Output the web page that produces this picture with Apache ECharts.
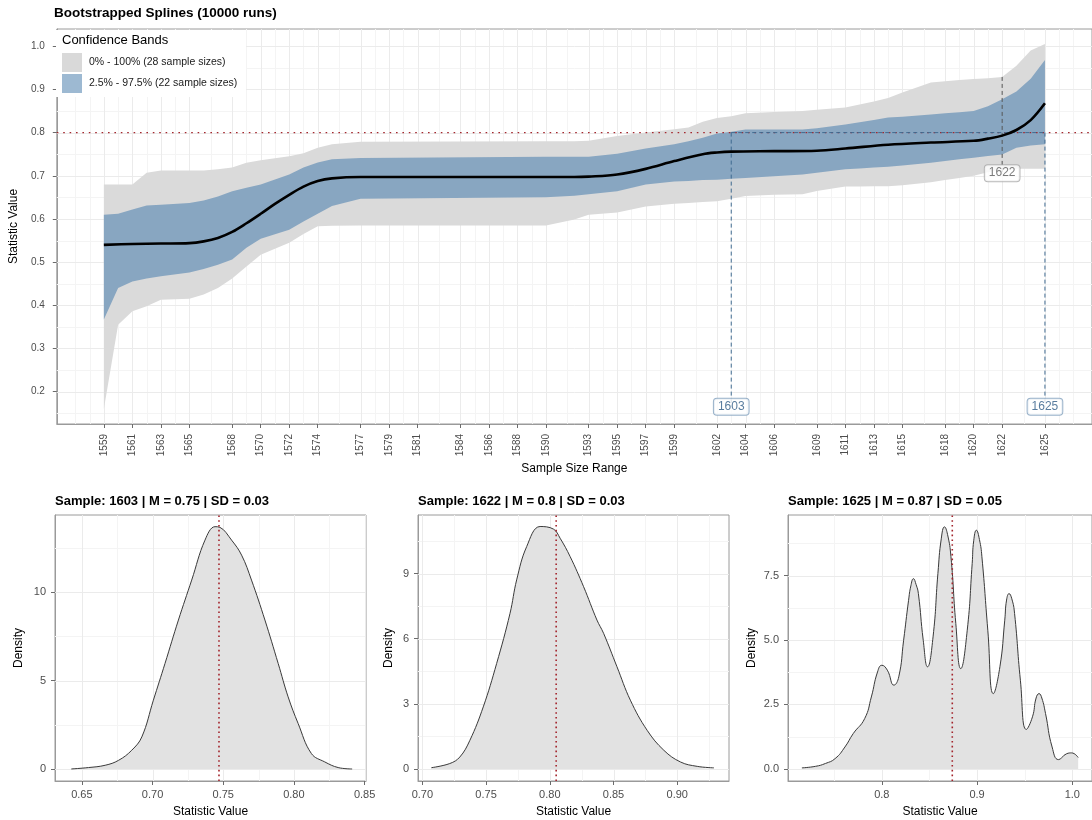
<!DOCTYPE html>
<html>
<head>
<meta charset="utf-8">
<title>Bootstrapped Splines</title>
<script src="https://cdn.jsdelivr.net/npm/echarts@6/dist/echarts.min.js"></script>
<style>
  html, body { margin: 0; padding: 0; background: #ffffff; }
  #chart { width: 1092px; height: 820px; }
</style>
</head>
<body>
<div id="chart"></div>
<script>
// ---------- spline panel data ----------
const sampleTicks = [1559, 1561, 1563, 1565, 1568, 1570, 1572, 1574, 1577, 1579, 1581, 1584, 1586, 1588, 1590,
  1593, 1595, 1597, 1599, 1602, 1604, 1606, 1609, 1611, 1613, 1615, 1618, 1620, 1622, 1625];
const valueTicks = [0.2, 0.3, 0.4, 0.5, 0.6, 0.7, 0.8, 0.9, 1.0];

// sample sizes where the band edges are given
const bandX = [1559, 1560, 1561, 1562, 1563, 1565, 1566, 1567, 1568, 1569, 1570, 1572, 1573, 1574, 1575, 1577,
  1590, 1591, 1592, 1593, 1595, 1597, 1599, 1600, 1601, 1602, 1603, 1604, 1606, 1608, 1609, 1611, 1612, 1613,
  1614, 1615, 1617, 1618, 1619, 1620, 1621, 1622, 1623, 1624, 1625];
// 0% - 100% band
const outerHi = [0.680, 0.680, 0.680, 0.707, 0.712, 0.712, 0.712, 0.715, 0.719, 0.730, 0.736, 0.745, 0.752, 0.765, 0.773, 0.779,
  0.780, 0.780, 0.780, 0.781, 0.792, 0.800, 0.808, 0.812, 0.825, 0.834, 0.838, 0.845, 0.848, 0.850, 0.853, 0.858, 0.865, 0.872,
  0.880, 0.893, 0.916, 0.919, 0.922, 0.924, 0.926, 0.929, 0.955, 0.990, 1.005];
const outerLo = [0.160, 0.355, 0.386, 0.398, 0.413, 0.415, 0.425, 0.440, 0.462, 0.490, 0.517, 0.545, 0.565, 0.583, 0.584, 0.585,
  0.585, 0.592, 0.599, 0.610, 0.615, 0.629, 0.635, 0.637, 0.639, 0.641, 0.647, 0.653, 0.656, 0.657, 0.665, 0.675, 0.675, 0.676,
  0.676, 0.678, 0.685, 0.690, 0.695, 0.700, 0.708, 0.715, 0.716, 0.716, 0.716];
// 2.5% - 97.5% band
const innerHi = [0.610, 0.612, 0.622, 0.631, 0.633, 0.637, 0.643, 0.652, 0.664, 0.672, 0.680, 0.703, 0.719, 0.731, 0.738, 0.741,
  0.744, 0.744, 0.744, 0.744, 0.751, 0.763, 0.773, 0.780, 0.788, 0.798, 0.802, 0.807, 0.807, 0.807, 0.810, 0.819, 0.824, 0.829,
  0.835, 0.837, 0.842, 0.845, 0.847, 0.850, 0.861, 0.877, 0.895, 0.925, 0.968];
const innerLo = [0.367, 0.440, 0.455, 0.462, 0.467, 0.476, 0.484, 0.494, 0.506, 0.533, 0.554, 0.575, 0.594, 0.612, 0.630, 0.647,
  0.650, 0.652, 0.654, 0.657, 0.664, 0.680, 0.687, 0.688, 0.690, 0.691, 0.693, 0.695, 0.699, 0.703, 0.707, 0.715, 0.717, 0.719,
  0.721, 0.724, 0.730, 0.734, 0.738, 0.742, 0.746, 0.749, 0.765, 0.770, 0.773];

// bootstrapped mean spline
const meanX = [1559, 1561, 1563, 1565, 1566, 1567, 1568, 1569, 1570, 1571, 1572, 1573, 1574, 1575, 1577, 1584, 1592, 1593,
  1595, 1597, 1599, 1601, 1602, 1603, 1606, 1609, 1611, 1614, 1617, 1620, 1621, 1622, 1623, 1624, 1625];
const meanY = [0.540, 0.542, 0.543, 0.544, 0.548, 0.556, 0.570, 0.590, 0.612, 0.635, 0.656, 0.675, 0.688, 0.694, 0.697, 0.697, 0.697, 0.698,
  0.703, 0.716, 0.734, 0.750, 0.754, 0.756, 0.757, 0.758, 0.763, 0.772, 0.777, 0.781, 0.786, 0.793, 0.806, 0.829, 0.868];

const threshold = 0.8;
const bandNames = ['0% - 100% (28 sample sizes)', '2.5% - 97.5% (22 sample sizes)'];

// highlighted sample sizes: label position and top of the guide line
const calloutSizes = [1603, 1622, 1625];
const calloutLabelY = [0.165, 0.706, 0.165];
const calloutLineTop = [0.8, 0.929, 0.8];

// ---------- density panels ----------
const panelSamples = [1603, 1622, 1625];
const panelMeans = ['0.75', '0.8', '0.87'];
const panelSDs = ['0.03', '0.03', '0.05'];
const panelMeanLine = [0.747, 0.805, 0.874];

const dens1603X = [0.6425, 0.6547, 0.6665, 0.676, 0.6853, 0.6924, 0.7006, 0.7088, 0.7183, 0.7277, 0.7371, 0.7442, 0.7477,
  0.7559, 0.7630, 0.7700, 0.7795, 0.7889, 0.7959, 0.8030, 0.8124, 0.8218, 0.8313, 0.8412];
const dens1603Y = [0.00, 0.08, 0.21, 0.49, 1.06, 1.81, 3.89, 5.96, 8.42, 10.68, 12.94, 13.70, 13.66,
  12.94, 12.09, 10.68, 8.42, 5.96, 4.08, 2.57, 0.87, 0.40, 0.08, 0.00];

const dens1622X = [0.7071, 0.7215, 0.7294, 0.7373, 0.7478, 0.7583, 0.7688, 0.7740, 0.7819, 0.7924, 0.8029, 0.8081, 0.8160,
  0.8265, 0.8370, 0.8422, 0.8527, 0.8632, 0.8764, 0.8895, 0.9026, 0.9157, 0.9288];
const dens1622Y = [0.06, 0.25, 0.55, 1.32, 2.86, 4.86, 7.17, 8.71, 10.25, 11.17, 11.05, 10.63, 9.78,
  8.40, 6.86, 6.25, 4.71, 3.17, 1.78, 0.86, 0.32, 0.12, 0.05];

const dens1625X = [0.7161, 0.7305, 0.7408, 0.7510, 0.7613, 0.7700, 0.7820, 0.7890, 0.7955, 0.8000, 0.8058, 0.8127, 0.8178,
  0.8229, 0.8281, 0.8305, 0.8332, 0.8360, 0.8384, 0.8435, 0.8480, 0.8538, 0.8589, 0.8625, 0.8658, 0.8690, 0.8726, 0.8777,
  0.8829, 0.8897, 0.8949, 0.8965, 0.8993, 0.9025, 0.9051, 0.9113, 0.9171, 0.9240, 0.9291, 0.9310, 0.9336, 0.9365, 0.9394,
  0.9455, 0.9517, 0.9582, 0.9620, 0.9651, 0.9680, 0.9719, 0.9788, 0.9856, 0.9942, 0.9993, 1.0062];
const dens1625Y = [0.04, 0.10, 0.21, 0.40, 0.85, 1.37, 1.95, 2.79, 3.76, 4.02, 3.83, 3.25, 3.57,
  4.99, 6.54, 7.10, 7.38, 7.15, 6.80, 4.99, 3.96, 5.12, 7.58, 8.95, 9.39, 9.10, 8.23, 5.64,
  3.89, 5.38, 7.97, 8.85, 9.26, 8.90, 8.23, 5.38, 2.92, 3.96, 5.77, 6.55, 6.80, 6.60, 6.03,
  3.44, 1.53, 2.02, 2.75, 2.92, 2.75, 2.15, 0.85, 0.36, 0.59, 0.62, 0.44];

const densX = [dens1603X, dens1622X, dens1625X];
const densY = [dens1603Y, dens1622Y, dens1625Y];
const densXTicks = [[0.65, 0.70, 0.75, 0.80, 0.85], [0.70, 0.75, 0.80, 0.85, 0.90], [0.8, 0.9, 1.0]];
const densXDecimals = [2, 2, 1];
const densYTicks = [[0, 5, 10], [0, 3, 6, 9], [0, 2.5, 5, 7.5]];
const densYDecimals = [0, 0, 1];

// ---------- layout ----------
const FONT = '"Liberation Sans", Arial, Helvetica, sans-serif';
const mainRange = { x: [1555.7, 1628.3], y: [0.125, 1.04] };
const panelRange = [
  { x: [0.631, 0.851], y: [-0.68, 14.36] },
  { x: [0.6966, 0.9406], y: [-0.554, 11.7] },
  { x: [0.7015, 1.0207], y: [-0.47, 9.85] }
];
const panelLeft = [55, 418, 788];
const panelNameGap = [30, 23, 30];
const panelSmooth = [0.4, 0.4, 0.5];
const BORDER = '#9a9a9a';

// minor breaks: midpoints between major breaks, extended one step past each end
function minorBreaks(ticks, range) {
  const step = ticks[1] - ticks[0];
  const ext = [ticks[0] - step].concat(ticks, [ticks[ticks.length - 1] + step]);
  const out = [];
  for (let i = 0; i < ext.length; i++) {
    if (i > 0) out.push((ext[i - 1] + ext[i]) / 2);
    if (i === 0 || i === ext.length - 1) out.push(ext[i]);
  }
  return out.filter(v => v > range[0] && v < range[1] && ticks.every(t => Math.abs(t - v) > 1e-9));
}

// panel grid lines drawn through the axis scales
function gridLines(idx, range, xMajor, yMajor) {
  const data = [];
  minorBreaks(xMajor, range.x).forEach(v => data.push([v, 0, 0]));
  minorBreaks(yMajor, range.y).forEach(v => data.push([v, 1, 0]));
  xMajor.forEach(v => data.push([v, 0, 1]));
  yMajor.forEach(v => data.push([v, 1, 1]));
  return {
    type: 'custom', xAxisIndex: idx, yAxisIndex: idx, silent: true, z: 1, data: data,
    renderItem: function (params, api) {
      const cs = params.coordSys;
      const v = api.value(0), horiz = api.value(1), major = api.value(2);
      let shape;
      if (horiz) {
        const y = Math.round(api.coord([range.x[0], v])[1]) + 0.5;
        shape = { x1: cs.x, y1: y, x2: cs.x + cs.width, y2: y };
      } else {
        const x = Math.round(api.coord([v, range.y[0]])[0]) + 0.5;
        shape = { x1: x, y1: cs.y, x2: x, y2: cs.y + cs.height };
      }
      return { type: 'line', shape: shape, style: { stroke: major ? '#ebebeb' : '#f4f4f4', lineWidth: 1 } };
    }
  };
}

function bandSeries(name, hi, lo, color) {
  return {
    type: 'custom', name: name, xAxisIndex: 0, yAxisIndex: 0, z: 2, silent: true,
    itemStyle: { color: color },
    data: [[bandX[0], hi[0]]],
    renderItem: function (params, api) {
      const pts = bandX.map((x, i) => api.coord([x, hi[i]]));
      for (let i = bandX.length - 1; i >= 0; i--) pts.push(api.coord([bandX[i], lo[i]]));
      return { type: 'polygon', shape: { points: pts }, style: { fill: color } };
    }
  };
}

function segment(idx, p1, p2, color, width, dash, z) {
  return {
    type: 'line', xAxisIndex: idx, yAxisIndex: idx, z: z, silent: true, symbol: 'none',
    data: [p1, p2],
    lineStyle: { color: color, width: width, type: dash }
  };
}

const grids = [{ left: 55, top: 29, width: 1043, height: 395 }];
panelLeft.forEach(l => grids.push({ left: l, top: 515, width: 311, height: 266 }));
grids.forEach(g => { g.show = true; g.borderColor = BORDER; g.borderWidth = 1; g.backgroundColor = 'transparent'; g.containLabel = false; });

const tickStyle = { show: true, inside: false, length: 4, lineStyle: { color: '#6b6b6b', width: 1 } };
const lineStyleAxis = { show: true, onZero: false, lineStyle: { color: BORDER, width: 1 } };
const labelColor = '#4d4d4d';

const xAxes = [{
  type: 'value', gridIndex: 0, min: mainRange.x[0], max: mainRange.x[1], position: 'bottom',
  axisLine: lineStyleAxis, splitLine: { show: false },
  axisTick: Object.assign({ customValues: sampleTicks }, tickStyle),
  axisLabel: { customValues: sampleTicks, rotate: 90, fontSize: 10, color: labelColor, margin: 10, formatter: v => String(v) },
  name: 'Sample Size Range', nameLocation: 'middle', nameGap: 39,
  nameTextStyle: { fontSize: 12, color: '#000' }
}];
const yAxes = [{
  type: 'value', gridIndex: 0, min: mainRange.y[0], max: mainRange.y[1], position: 'left',
  axisLine: lineStyleAxis, splitLine: { show: false },
  axisTick: Object.assign({ customValues: valueTicks }, tickStyle),
  axisLabel: { customValues: valueTicks, fontSize: 10, color: labelColor, margin: 12, formatter: v => v.toFixed(1) },
  name: 'Statistic Value', nameLocation: 'middle', nameGap: 30,
  nameTextStyle: { fontSize: 12, color: '#000' }
}];
for (let k = 0; k < 3; k++) {
  xAxes.push({
    type: 'value', gridIndex: k + 1, min: panelRange[k].x[0], max: panelRange[k].x[1], position: 'bottom',
    axisLine: lineStyleAxis, splitLine: { show: false },
    axisTick: Object.assign({ customValues: densXTicks[k] }, tickStyle),
    axisLabel: { customValues: densXTicks[k], fontSize: 11, color: labelColor, margin: 8, formatter: (v => v.toFixed(densXDecimals[k])) },
    name: 'Statistic Value', nameLocation: 'middle', nameGap: 25,
    nameTextStyle: { fontSize: 12, color: '#000' }
  });
  yAxes.push({
    type: 'value', gridIndex: k + 1, min: panelRange[k].y[0], max: panelRange[k].y[1], position: 'left',
    axisLine: lineStyleAxis, splitLine: { show: false },
    axisTick: Object.assign({ customValues: densYTicks[k] }, tickStyle),
    axisLabel: { customValues: densYTicks[k], fontSize: 11, color: labelColor, margin: 9, formatter: (v => v.toFixed(densYDecimals[k])) },
    name: 'Density', nameLocation: 'middle', nameGap: panelNameGap[k],
    nameTextStyle: { fontSize: 12, color: '#000' }
  });
}

const BLUE_GUIDE = '#3f6a90';
const series = [
  gridLines(0, mainRange, sampleTicks, valueTicks),
  bandSeries(bandNames[0], outerHi, outerLo, '#dadada'),
  bandSeries(bandNames[1], innerHi, innerLo, '#88a6c1'),
  segment(0, [mainRange.x[0], threshold], [mainRange.x[1], threshold], '#a3272d', 1.4, [1.6, 4.8], 3),
  segment(0, [calloutSizes[0], threshold], [calloutSizes[2], threshold], BLUE_GUIDE, 1, [4, 3], 4)
];
calloutSizes.forEach((s, i) => {
  series.push(segment(0, [s, calloutLineTop[i]], [s, calloutLabelY[i]], i === 1 ? '#555555' : BLUE_GUIDE, 1, [4, 3], 4));
});
series.push({
  type: 'line', xAxisIndex: 0, yAxisIndex: 0, z: 5, silent: true, symbol: 'none',
  smooth: 0.35,
  data: meanX.map((x, i) => [x, meanY[i]]),
  lineStyle: { color: '#000000', width: 2.6 }
});
series.push({
  type: 'scatter', xAxisIndex: 0, yAxisIndex: 0, z: 6, silent: true, symbolSize: 1,
  itemStyle: { color: 'transparent' },
  data: calloutSizes.map((s, i) => {
    const grey = i === 1;
    return {
      value: [s, calloutLabelY[i]],
      label: {
        color: grey ? '#5a5a5a' : '#2e5b86',
        borderColor: grey ? '#a8a8a8' : '#7f9fbd'
      }
    };
  }),
  label: {
    show: true, position: 'inside', formatter: p => String(p.value[0]),
    fontSize: 12, fontFamily: FONT, backgroundColor: '#ffffff', borderWidth: 1, borderRadius: 3,
    padding: [1, 4, 1, 4], lineHeight: 14
  }
});

for (let k = 0; k < 3; k++) {
  series.push(gridLines(k + 1, panelRange[k], densXTicks[k], densYTicks[k]));
  series.push({
    type: 'line', xAxisIndex: k + 1, yAxisIndex: k + 1, z: 2, silent: true, symbol: 'none',
    smooth: panelSmooth[k],
    data: densX[k].map((x, i) => [x, densY[k][i]]),
    lineStyle: { color: '#3a3a3a', width: 1 },
    areaStyle: { color: '#e2e2e2', opacity: 1 }
  });
  // mean of the bootstrapped statistic, full panel height
  series.push(segment(k + 1, [panelMeanLine[k], panelRange[k].y[0]], [panelMeanLine[k], panelRange[k].y[1]],
    '#a3232b', 1.6, [1.6, 3.2], 3));
}

const titles = [{
  text: 'Bootstrapped Splines (10000 runs)', left: 54, top: 6, padding: 0,
  textStyle: { fontSize: 13.5, fontWeight: 'bold', color: '#000', fontFamily: FONT }
}];
for (let k = 0; k < 3; k++) {
  titles.push({
    text: 'Sample: ' + panelSamples[k] + ' | M = ' + panelMeans[k] + ' | SD = ' + panelSDs[k],
    left: panelLeft[k], top: 495, padding: 0,
    textStyle: { fontSize: 13, fontWeight: 'bold', color: '#000', fontFamily: FONT }
  });
}

const chart = echarts.init(document.getElementById('chart'), null, { renderer: 'canvas' });
chart.setOption({
  animation: false,
  backgroundColor: '#ffffff',
  textStyle: { fontFamily: FONT },
  title: titles,
  grid: grids,
  xAxis: xAxes,
  yAxis: yAxes,
  legend: {
    orient: 'vertical', left: 62, top: 53, padding: 0, itemGap: 2,
    itemWidth: 20, itemHeight: 19, icon: 'rect', selectedMode: false, z: 6,
    textStyle: { fontSize: 10.5, color: '#1a1a1a', padding: [0, 0, 0, 2] },
    data: [
      { name: bandNames[0], itemStyle: { color: '#d9d9d9' } },
      { name: bandNames[1], itemStyle: { color: '#9db9d2' } }
    ]
  },
  graphic: [
    { type: 'rect', left: 56, top: 30, shape: { width: 190, height: 67 }, style: { fill: '#ffffff' }, z: 4, silent: true },
    { type: 'text', left: 62, top: 34, style: { text: 'Confidence Bands', fontSize: 13, fill: '#000000', fontFamily: FONT }, z: 6, silent: true }
  ],
  series: series
});
</script>
</body>
</html>
